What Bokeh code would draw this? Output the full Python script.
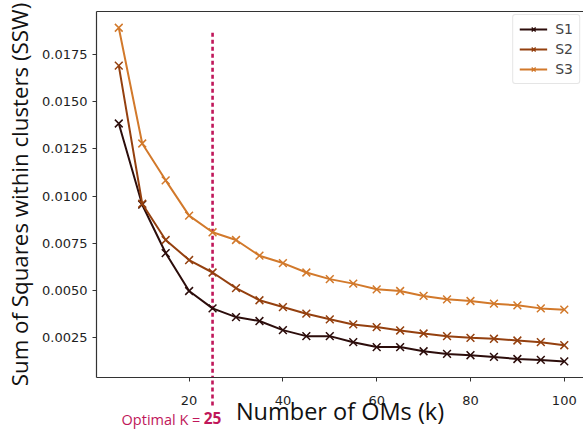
from bokeh.plotting import figure
from bokeh.models import (ColumnDataSource, Legend, LegendItem, LinearAxis,
                          Range1d, FixedTicker)
from bokeh.embed import file_html
from bokeh.resources import INLINE

# Number of OMs (k)
k_values = [5, 10, 15, 20, 25, 30, 35, 40, 45, 50, 55, 60, 65, 70, 75, 80, 85, 90, 95, 100]

# Sum of squares within clusters per scenario
ssw_s1 = [0.01385, 0.00955, 0.00699, 0.00498, 0.00406, 0.00360, 0.00339, 0.00291, 0.00259, 0.00259,
          0.00227, 0.00201, 0.00201, 0.00179, 0.00165, 0.00158, 0.00149, 0.00138, 0.00133, 0.00125]
ssw_s2 = [0.01691, 0.00960, 0.00768, 0.00662, 0.00596, 0.00513, 0.00449, 0.00413, 0.00378, 0.00348,
          0.00321, 0.00307, 0.00289, 0.00273, 0.00259, 0.00250, 0.00245, 0.00236, 0.00227, 0.00211]
ssw_s3 = [0.01892, 0.01279, 0.01084, 0.00897, 0.00809, 0.00768, 0.00685, 0.00646, 0.00596, 0.00561,
          0.00537, 0.00507, 0.00498, 0.00472, 0.00454, 0.00445, 0.00431, 0.00422, 0.00406, 0.00399]

series_names = ["S1", "S2", "S3"]
series_colors = ["#2c0d0b", "#94400f", "#d2792b"]

optimal_k = 25
optimal_top = 0.01865
x_ticks = [20, 40, 60, 80, 100]
y_ticks = [0.0025, 0.0050, 0.0075, 0.0100, 0.0125, 0.0150, 0.0175]

ACCENT = "#c0175a"
DASH = "4 3"
DASH_BELOW = 28          # how far the dashed line runs under the x axis (px)

p = figure(width=583, height=431, output_backend="svg", toolbar_location=None,
           x_range=Range1d(0.25, 104.1), y_range=Range1d(0.0004, 0.01978),
           min_border_left=96, min_border_right=0, min_border_top=11, min_border_bottom=54)
p.outline_line_color = None
p.grid.visible = False

# dashed vertical line at the optimal k (inside the axes)
src_opt = ColumnDataSource(dict(x0=[optimal_k], y0=[optimal_top], x1=[optimal_k], y1=[0.0004]))
p.segment("x0", "y0", "x1", "y1", source=src_opt, line_color=ACCENT, line_width=2.6,
          line_dash=DASH)

items = []
for name, vals, col in zip(series_names, [ssw_s1, ssw_s2, ssw_s3], series_colors):
    src = ColumnDataSource(dict(k=k_values, ssw=vals))
    ln = p.line("k", "ssw", source=src, line_color=col, line_width=2)
    mk = p.scatter("k", "ssw", source=src, marker="x", size=11, line_color=col, line_width=1.5)
    items.append(LegendItem(label=name, renderers=[ln, mk]))

for ax in (p.xaxis[0], p.yaxis[0]):
    ax.axis_line_color = "#333333"
    ax.axis_line_width = 1.2
    ax.major_tick_line_color = "#333333"
    ax.major_tick_out = 4
    ax.major_tick_in = 0
    ax.major_label_text_font = "DejaVu Sans"
    ax.major_label_text_font_size = "13px"
    ax.major_label_text_color = "#1e1e1e"

p.yaxis.minor_tick_line_color = None
p.yaxis.ticker = FixedTicker(ticks=y_ticks)
p.yaxis.major_label_overrides = {t: f"{t:.4f}" for t in y_ticks}

xaxis = p.xaxis[0]
# the optimal-k dashed line continues below the x axis as a long minor tick
xaxis.ticker = FixedTicker(ticks=x_ticks, minor_ticks=[optimal_k])
xaxis.minor_tick_line_color = ACCENT
xaxis.minor_tick_line_width = 2.6
xaxis.minor_tick_line_dash = DASH
xaxis.minor_tick_out = DASH_BELOW
xaxis.minor_tick_in = 0
# keep the tick labels close to the axis despite the long minor tick
xaxis.major_label_standoff = -10

xaxis.axis_label = "Number of OMs (k)"
xaxis.axis_label_text_font = "Open Sans"
xaxis.axis_label_text_font_size = "23.5px"
xaxis.axis_label_text_font_style = "normal"
xaxis.axis_label_text_color = "#111111"
xaxis.axis_label_standoff = -13

p.yaxis.axis_label = "Sum of Squares within clusters (SSW)"
p.yaxis.axis_label_text_font = "Open Sans"
p.yaxis.axis_label_text_font_size = "22.3px"
p.yaxis.axis_label_text_font_style = "normal"
p.yaxis.axis_label_text_color = "#111111"
p.yaxis.axis_label_standoff = 4


def caption_axis(tick, text, style, size):
    """Bare axis used only to print one caption under the x axis."""
    ax = LinearAxis(axis_line_color=None, major_tick_line_color=None,
                    minor_tick_line_color=None, major_tick_out=0, major_tick_in=0,
                    major_label_text_font="Open Sans", major_label_text_font_size=size,
                    major_label_text_font_style=style, major_label_text_color=ACCENT,
                    major_label_standoff=-20)
    ax.ticker = FixedTicker(ticks=[tick])
    ax.major_label_overrides = {tick: text}
    return ax


# "Optimal K = 25" caption, with the number right under the dashed line
p.add_layout(caption_axis(optimal_k - 11.0, "Optimal K =", "normal", "14.5px"), "below")
p.add_layout(caption_axis(optimal_k, str(optimal_k), "bold", "15.5px"), "below")

# top border line of the axes box
top_axis = LinearAxis(axis_line_color="#333333", axis_line_width=1.2, major_tick_line_color=None,
                      minor_tick_line_color=None, major_label_text_font_size="0px")
top_axis.ticker = FixedTicker(ticks=[])
p.add_layout(top_axis, "above")

legend = Legend(items=items, location="top_right", label_text_font="DejaVu Sans",
                label_text_font_size="14px", glyph_width=28, glyph_height=14,
                label_width=10, spacing=4, padding=6, margin=3, border_line_color="#cccccc",
                border_line_width=1, border_radius=3, label_standoff=8)
p.add_layout(legend)

open("out.html", "w").write(file_html(p, INLINE))
